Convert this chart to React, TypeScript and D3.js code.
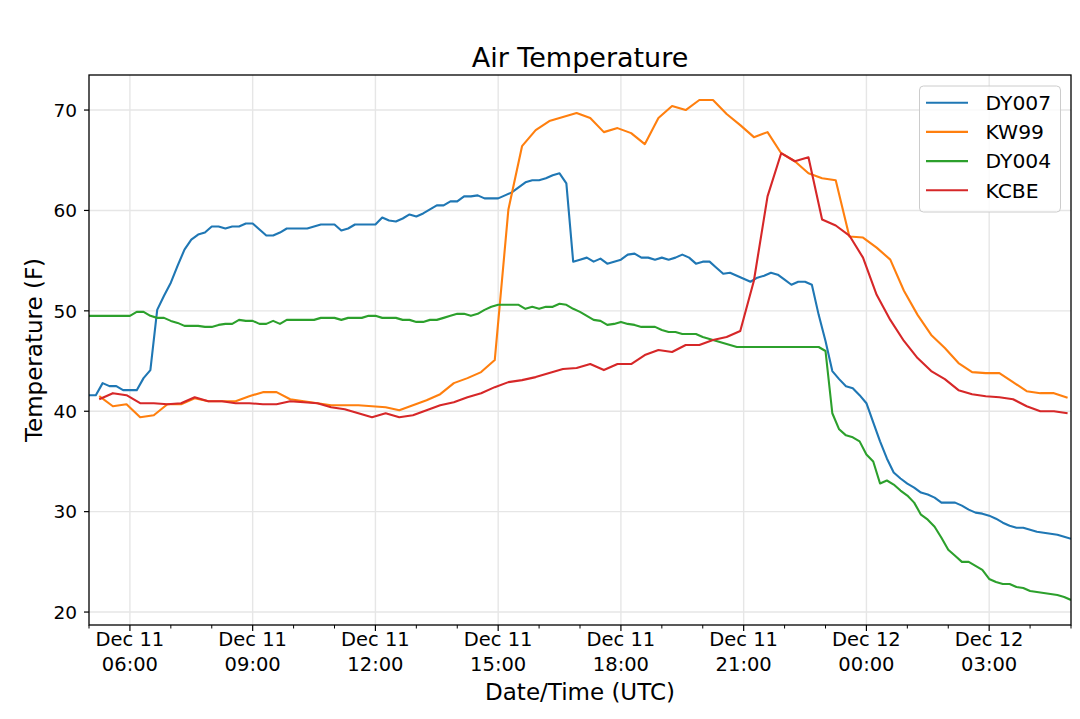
import * as d3 from 'd3';

// station readings, Dec 11 05:00 UTC onward
const startMs = Date.UTC(2019, 11, 11, 5, 0);
const endMs = Date.UTC(2019, 11, 12, 5, 0);

// DY007 / DY004: every 10 minutes from 05:00
const dy007 = [
  41.6, 41.6, 42.8, 42.5, 42.5, 42.1, 42.1, 42.1, 43.3, 44.1,
  50.1, 51.5, 52.8, 54.5, 56.1, 57.1, 57.6, 57.8, 58.4, 58.4,
  58.2, 58.4, 58.4, 58.7, 58.7, 58.1, 57.5, 57.5, 57.8, 58.2,
  58.2, 58.2, 58.2, 58.4, 58.6, 58.6, 58.6, 58.0, 58.2, 58.6,
  58.6, 58.6, 58.6, 59.3, 59.0, 58.9, 59.2, 59.6, 59.4, 59.7,
  60.1, 60.5, 60.5, 60.9, 60.9, 61.4, 61.4, 61.5, 61.2, 61.2,
  61.2, 61.5, 61.8, 62.3, 62.8, 63.0, 63.0, 63.2, 63.5, 63.7,
  62.7, 54.9, 55.1, 55.3, 54.9, 55.2, 54.7, 54.9, 55.1, 55.6,
  55.7, 55.3, 55.3, 55.1, 55.3, 55.1, 55.3, 55.6, 55.3, 54.7,
  54.9, 54.9, 54.3, 53.7, 53.8, 53.5, 53.2, 52.9, 53.3, 53.5,
  53.8, 53.6, 53.1, 52.6, 52.9, 52.9, 52.6, 49.6, 47.0, 44.0,
  43.2, 42.5, 42.3, 41.6, 40.8, 38.9, 37.0, 35.3, 33.9, 33.3,
  32.8, 32.4, 31.9, 31.7, 31.4, 30.9, 30.9, 30.9, 30.6, 30.2,
  29.9, 29.8, 29.6, 29.3, 28.9, 28.6, 28.4, 28.4, 28.2, 28.0,
  27.9, 27.8, 27.7, 27.5, 27.3,
];

const dy004 = [
  49.5, 49.5, 49.5, 49.5, 49.5, 49.5, 49.5, 49.9, 49.9, 49.5,
  49.3, 49.3, 49.0, 48.8, 48.5, 48.5, 48.5, 48.4, 48.4, 48.6,
  48.7, 48.7, 49.1, 49.0, 49.0, 48.7, 48.7, 49.0, 48.7, 49.1,
  49.1, 49.1, 49.1, 49.1, 49.3, 49.3, 49.3, 49.1, 49.3, 49.3,
  49.3, 49.5, 49.5, 49.3, 49.3, 49.3, 49.1, 49.1, 48.9, 48.9,
  49.1, 49.1, 49.3, 49.5, 49.7, 49.7, 49.5, 49.7, 50.1, 50.4,
  50.6, 50.6, 50.6, 50.6, 50.2, 50.4, 50.2, 50.4, 50.4, 50.7,
  50.6, 50.2, 49.9, 49.5, 49.1, 49.0, 48.6, 48.7, 48.9, 48.7,
  48.6, 48.4, 48.4, 48.4, 48.1, 47.9, 47.9, 47.7, 47.7, 47.7,
  47.4, 47.2, 47.0, 46.8, 46.6, 46.4, 46.4, 46.4, 46.4, 46.4,
  46.4, 46.4, 46.4, 46.4, 46.4, 46.4, 46.4, 46.4, 46.0, 39.8,
  38.2, 37.6, 37.4, 37.0, 35.7, 35.0, 32.8, 33.1, 32.7, 32.1,
  31.6, 30.9, 29.7, 29.2, 28.5, 27.4, 26.2, 25.6, 25.0, 25.0,
  24.6, 24.2, 23.3, 23.0, 22.8, 22.8, 22.5, 22.4, 22.1, 22.0,
  21.9, 21.8, 21.7, 21.5, 21.2,
];

// KW99 / KCBE: every 20 minutes from 05:15
const kw99 = [
  41.5, 40.5, 40.7, 39.4, 39.6, 40.7, 40.7, 41.3, 41.0, 41.0,
  41.0, 41.5, 41.9, 41.9, 41.2, 41.0, 40.8, 40.6, 40.6, 40.6,
  40.5, 40.4, 40.1, 40.6, 41.1, 41.7, 42.8, 43.3, 43.9, 45.1,
  60.1, 66.4, 68.0, 68.9, 69.3, 69.7, 69.2, 67.8, 68.2, 67.7,
  66.6, 69.2, 70.4, 70.0, 71.0, 71.0, 69.6, 68.5, 67.3, 67.8,
  65.7, 64.9, 63.7, 63.2, 63.0, 57.4, 57.3, 56.3, 55.1, 52.0,
  49.6, 47.6, 46.3, 44.8, 43.9, 43.8, 43.8, 42.9, 42.0, 41.8,
  41.8, 41.35,
];

const kcbe = [
  41.2, 41.8, 41.6, 40.8, 40.8, 40.7, 40.8, 41.4, 41.0, 41.0,
  40.8, 40.8, 40.7, 40.7, 41.0, 40.9, 40.8, 40.4, 40.2, 39.8,
  39.4, 39.8, 39.4, 39.6, 40.1, 40.6, 40.9, 41.4, 41.8, 42.4,
  42.9, 43.1, 43.4, 43.8, 44.2, 44.3, 44.7, 44.1, 44.7, 44.7,
  45.6, 46.1, 45.9, 46.6, 46.6, 47.1, 47.4, 48.0, 53.0, 61.4,
  65.7, 64.9, 65.3, 59.1, 58.5, 57.5, 55.3, 51.6, 49.1, 47.0,
  45.3, 44.0, 43.2, 42.1, 41.7, 41.5, 41.4, 41.2, 40.5, 40.0,
  40.0, 39.8,
];

const stationNames = ['DY007', 'KW99', 'DY004', 'KCBE'];
const stationColors = ['#1f77b4', '#ff7f0e', '#2ca02c', '#d62728'];
const stationValues = [dy007, kw99, dy004, kcbe];
const stationStepMin = [10, 20, 10, 20];
const stationOffsetMin = [0, 15, 0, 15];

const W = 1080;
const H = 719;
const margin = { top: 75, right: 9, bottom: 94, left: 89 };
const FONT = '"DejaVu Sans", sans-serif';

export default function App() {
  const series = stationNames.map((name, i) => ({
    name,
    color: stationColors[i],
    points: stationValues[i].map((v, j) => ({
      t: new Date(startMs + (stationOffsetMin[i] + j * stationStepMin[i]) * 60000),
      v,
    })),
  }));

  const all = stationValues.flat();
  const lo = d3.min(all)!;
  const hi = d3.max(all)!;
  const pad = (hi - lo) * 0.05;

  const x = d3.scaleUtc()
    .domain([new Date(startMs), new Date(endMs)])
    .range([margin.left, W - margin.right]);
  const y = d3.scaleLinear()
    .domain([lo - pad, hi + pad])
    .range([H - margin.bottom, margin.top]);

  const line = d3.line<{ t: Date; v: number }>()
    .x(d => x(d.t))
    .y(d => y(d.v));

  const majorTicks = x.ticks(d3.utcHour.every(3)!);
  const minorTicks = x.ticks(d3.utcHour.every(1)!).filter(t => t.getUTCHours() % 3 !== 0);
  const yTicks = [20, 30, 40, 50, 60, 70];
  const fmtDay = d3.utcFormat('%b %d');
  const fmtTime = d3.utcFormat('%H:%M');

  const x0 = margin.left;
  const x1 = W - margin.right;
  const y0 = margin.top;
  const y1 = H - margin.bottom;

  return (
    <svg width={W} height={H} style={{ position: 'absolute', left: 0, top: 0, background: '#fff' }}
      fontFamily={FONT}>
      <rect x={0} y={0} width={W} height={H} fill="#fff" />
      {/* grid */}
      {majorTicks.map((t, i) => (
        <line key={'gx' + i} x1={x(t)} x2={x(t)} y1={y0} y2={y1} stroke="#e6e6e6" strokeWidth={1.4} />
      ))}
      {yTicks.map(v => (
        <line key={'gy' + v} x1={x0} x2={x1} y1={y(v)} y2={y(v)} stroke="#e6e6e6" strokeWidth={1.4} />
      ))}
      {/* data */}
      <g clipPath="url(#plotclip)">
        {series.map(s => (
          <path key={s.name} d={line(s.points)!} fill="none" stroke={s.color} strokeWidth={2.1}
            strokeLinejoin="round" />
        ))}
      </g>
      <defs>
        <clipPath id="plotclip">
          <rect x={x0} y={y0} width={x1 - x0} height={y1 - y0} />
        </clipPath>
      </defs>
      {/* spines */}
      <rect x={x0} y={y0} width={x1 - x0} height={y1 - y0} fill="none" stroke="#000" strokeWidth={1.3} />
      {/* x ticks */}
      {majorTicks.map((t, i) => (
        <g key={'xt' + i}>
          <line x1={x(t)} x2={x(t)} y1={y1} y2={y1 + 6} stroke="#000" strokeWidth={1.2} />
          <text x={x(t)} y={646} textAnchor="middle" fontSize={19.5}>{fmtDay(t)}</text>
          <text x={x(t)} y={671} textAnchor="middle" fontSize={19.5}>{fmtTime(t)}</text>
        </g>
      ))}
      {minorTicks.map((t, i) => (
        <line key={'xm' + i} x1={x(t)} x2={x(t)} y1={y1} y2={y1 + 3.5} stroke="#000" strokeWidth={1} />
      ))}
      {/* y ticks */}
      {yTicks.map(v => (
        <g key={'yt' + v}>
          <line x1={x0 - 5} x2={x0} y1={y(v)} y2={y(v)} stroke="#000" strokeWidth={1.2} />
          <text x={x0 - 12} y={y(v)} dy="0.36em" textAnchor="end" fontSize={18.5}>{v}</text>
        </g>
      ))}
      {/* labels */}
      <text x={(x0 + x1) / 2} y={67} textAnchor="middle" fontSize={27}>Air Temperature</text>
      <text x={(x0 + x1) / 2} y={700} textAnchor="middle" fontSize={23}>Date/Time (UTC)</text>
      <text transform={`translate(34,${(y0 + y1) / 2}) rotate(-90)`} textAnchor="middle" dy="0.36em"
        fontSize={23}>Temperature (F)</text>
      {/* legend */}
      <g>
        <rect x={919.5} y={86} width={141} height={126} rx={4} fill="#fff" fillOpacity={0.8}
          stroke="#cccccc" strokeWidth={1} />
        {series.map((s, i) => (
          <g key={'lg' + s.name}>
            <line x1={926} x2={968} y1={102.7 + i * 29.2} y2={102.7 + i * 29.2} stroke={s.color} strokeWidth={2.1} />
            <text x={985.5} y={102.7 + i * 29.2} dy="0.36em" fontSize={20.3}>{s.name}</text>
          </g>
        ))}
      </g>
    </svg>
  );
}
